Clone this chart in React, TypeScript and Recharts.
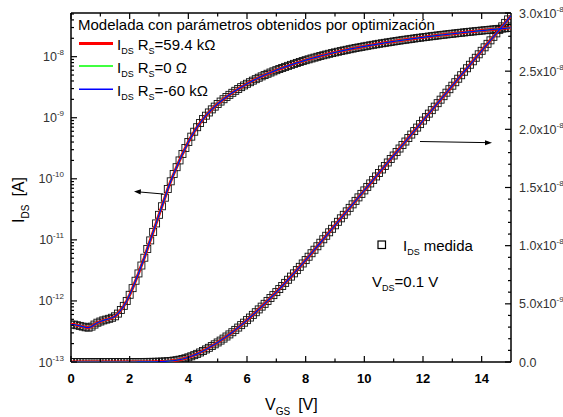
import { ComposedChart, Line, XAxis, YAxis } from "recharts";

// V_GS (V)
const vgs = [
  0, 0.1, 0.2, 0.3, 0.4, 0.5, 0.6, 0.7, 0.8, 0.9,
  1, 1.1, 1.2, 1.3, 1.4, 1.5, 1.6, 1.7, 1.8, 1.9,
  2, 2.1, 2.2, 2.3, 2.4, 2.5, 2.6, 2.7, 2.8, 2.9,
  3, 3.1, 3.2, 3.3, 3.4, 3.5, 3.6, 3.7, 3.8, 3.9,
  4, 4.1, 4.2, 4.3, 4.4, 4.5, 4.6, 4.7, 4.8, 4.9,
  5, 5.1, 5.2, 5.3, 5.4, 5.5, 5.6, 5.7, 5.8, 5.9,
  6, 6.1, 6.2, 6.3, 6.4, 6.5, 6.6, 6.7, 6.8, 6.9,
  7, 7.1, 7.2, 7.3, 7.4, 7.5, 7.6, 7.7, 7.8, 7.9,
  8, 8.1, 8.2, 8.3, 8.4, 8.5, 8.6, 8.7, 8.8, 8.9,
  9, 9.1, 9.2, 9.3, 9.4, 9.5, 9.6, 9.7, 9.8, 9.9,
  10, 10.1, 10.2, 10.3, 10.4, 10.5, 10.6, 10.7, 10.8, 10.9,
  11, 11.1, 11.2, 11.3, 11.4, 11.5, 11.6, 11.7, 11.8, 11.9,
  12, 12.1, 12.2, 12.3, 12.4, 12.5, 12.6, 12.7, 12.8, 12.9,
  13, 13.1, 13.2, 13.3, 13.4, 13.5, 13.6, 13.7, 13.8, 13.9,
  14, 14.1, 14.2, 14.3, 14.4, 14.5, 14.6, 14.7, 14.8, 14.9,
  15,
];

// I_DS medida (A)
const idsMedida = [
  4.1e-13, 4.1e-13, 4.0e-13, 3.9e-13, 3.8e-13, 3.7e-13, 3.65e-13, 3.8e-13, 4.1e-13, 4.4e-13,
  4.6e-13, 4.8e-13, 4.95e-13, 5.1e-13, 5.3e-13, 5.6e-13, 6.2e-13, 7.1e-13, 8.3e-13, 1.0e-12,
  1.26e-12, 1.62e-12, 2.14e-12, 2.82e-12, 3.8e-12, 5.1e-12, 7.1e-12, 9.8e-12, 1.35e-11, 1.86e-11,
  2.57e-11, 3.55e-11, 4.9e-11, 6.8e-11, 9.1e-11, 1.2e-10, 1.55e-10, 2.0e-10, 2.55e-10, 3.2e-10,
  4.0e-10, 4.9e-10, 5.9e-10, 7.0e-10, 8.2e-10, 9.5e-10, 1.08e-9, 1.22e-9, 1.37e-9, 1.52e-9,
  1.68e-9, 1.84e-9, 2.01e-9, 2.19e-9, 2.37e-9, 2.56e-9, 2.76e-9, 2.96e-9, 3.17e-9, 3.38e-9,
  3.6e-9, 3.82e-9, 4.05e-9, 4.28e-9, 4.52e-9, 4.76e-9, 5.0e-9, 5.25e-9, 5.5e-9, 5.75e-9,
  6.01e-9, 6.27e-9, 6.53e-9, 6.8e-9, 7.07e-9, 7.34e-9, 7.62e-9, 7.9e-9, 8.18e-9, 8.47e-9,
  8.76e-9, 9.05e-9, 9.35e-9, 9.65e-9, 9.95e-9, 1.025e-8, 1.055e-8, 1.085e-8, 1.115e-8, 1.145e-8,
  1.175e-8, 1.205e-8, 1.235e-8, 1.265e-8, 1.295e-8, 1.325e-8, 1.355e-8, 1.385e-8, 1.415e-8, 1.445e-8,
  1.475e-8, 1.505e-8, 1.535e-8, 1.565e-8, 1.595e-8, 1.625e-8, 1.655e-8, 1.685e-8, 1.715e-8, 1.745e-8,
  1.775e-8, 1.805e-8, 1.835e-8, 1.865e-8, 1.895e-8, 1.925e-8, 1.955e-8, 1.985e-8, 2.015e-8, 2.045e-8,
  2.075e-8, 2.105e-8, 2.135e-8, 2.165e-8, 2.195e-8, 2.225e-8, 2.255e-8, 2.285e-8, 2.315e-8, 2.345e-8,
  2.375e-8, 2.405e-8, 2.435e-8, 2.465e-8, 2.495e-8, 2.525e-8, 2.555e-8, 2.585e-8, 2.615e-8, 2.645e-8,
  2.675e-8, 2.705e-8, 2.735e-8, 2.765e-8, 2.795e-8, 2.825e-8, 2.855e-8, 2.885e-8, 2.915e-8, 2.945e-8,
  2.975e-8,
];

// the three model curves lie on top of the measurement
const idsRs594k = idsMedida;
const idsRs0 = idsMedida;
const idsRsMinus60k = idsMedida;

const xTicks = [0, 2, 4, 6, 8, 10, 12, 14];
const xMinorTicks = [1, 3, 5, 7, 9, 11, 13];

const logTicks = [1e-13, 1e-12, 1e-11, 1e-10, 1e-9, 1e-8];
const logTickExp = ["-13", "-12", "-11", "-10", "-9", "-8"];
const logTop = 5.19e-8;

const linTicks = [0, 5e-9, 1e-8, 1.5e-8, 2e-8, 2.5e-8, 3e-8];
const linTickText = ["0.0", "5.0x10", "1.0x10", "1.5x10", "2.0x10", "2.5x10", "3.0x10"];
const linTickExp = ["", "-9", "-8", "-8", "-8", "-8", "-8"];

const logMinor: number[] = [];
logTicks.forEach((d) => {
  for (let m = 2; m <= 9; m++) if (d * m <= logTop) logMinor.push(d * m);
});
const linMinor: number[] = [];
for (let i = 1; i < 30; i++) if (i % 5 !== 0) linMinor.push(i * 1e-9);

const rows = vgs.map((v, i) => ({
  vgs: v,
  medida: idsMedida[i],
  rs594: idsRs594k[i],
  rs0: idsRs0[i],
  rsm60: idsRsMinus60k[i],
}));

const FONT = "'Liberation Sans', Arial, sans-serif";

const BottomTick = (props: any) => {
  const { x, y, payload } = props;
  const major = xTicks.includes(payload.value);
  return (
    <g>
      <line x1={x} x2={x} y1={y} y2={y - (major ? 6 : 3.5)} stroke="#000" strokeWidth={1.2} />
      {major && (
        <text x={x} y={y + 21} textAnchor="middle" fontSize={13} fontWeight="bold" fontFamily={FONT} fill="#000">
          {payload.value}
        </text>
      )}
    </g>
  );
};

const TopTick = (props: any) => {
  const { x, y, payload } = props;
  const major = xTicks.includes(payload.value);
  return <line x1={x} x2={x} y1={y} y2={y + (major ? 6 : 3.5)} stroke="#000" strokeWidth={1.2} />;
};

const LeftTick = (props: any) => {
  const { x, y, payload } = props;
  const idx = logTicks.indexOf(payload.value);
  const major = idx >= 0;
  return (
    <g>
      <line x1={x} x2={x + (major ? 6 : 3)} y1={y} y2={y} stroke="#000" strokeWidth={1.2} />
      {major && (
        <text x={x - 7} y={y + 4.5} textAnchor="end" fontSize={12.5} fontFamily={FONT} fill="#333">
          10
          <tspan dy={-6} fontSize={8}>
            {logTickExp[idx]}
          </tspan>
        </text>
      )}
    </g>
  );
};

const RightTick = (props: any) => {
  const { x, y, payload } = props;
  const idx = linTicks.indexOf(payload.value);
  const major = idx >= 0;
  return (
    <g>
      <line x1={x} x2={x - (major ? 6 : 3)} y1={y} y2={y} stroke="#000" strokeWidth={1.2} />
      {major && (
        <text x={x + 8} y={y + 4.5} fontSize={12.5} fontFamily={FONT} fill="#333">
          {linTickText[idx]}
          {linTickExp[idx] && (
            <tspan dy={-6} fontSize={8}>
              {linTickExp[idx]}
            </tspan>
          )}
        </text>
      )}
    </g>
  );
};

// open squares, hollow so the model lines show through
const squareDot = (p: any) => (
  <rect
    key={`sq-${p.index}`}
    x={p.cx - 3.5}
    y={p.cy - 3.5}
    width={7}
    height={7}
    fill="none"
    stroke="#111"
    strokeWidth={0.9}
  />
);

const axisLine = { stroke: "#000", strokeWidth: 1.5 };

export default function App() {
  return (
    <div style={{ position: "absolute", left: 0, top: 0, width: 563, height: 417, background: "#fff" }}>
      <ComposedChart width={563} height={417} data={rows} margin={{ top: 0, right: 0, bottom: 0, left: 0 }}>
        <XAxis
          xAxisId="b"
          dataKey="vgs"
          type="number"
          domain={[0, 15]}
          allowDataOverflow
          ticks={[...xTicks, ...xMinorTicks]}
          interval={0}
          tick={BottomTick}
          tickLine={false}
          tickSize={0}
          tickMargin={0}
          height={55}
          axisLine={axisLine}
        />
        <XAxis
          xAxisId="t"
          orientation="top"
          dataKey="vgs"
          type="number"
          domain={[0, 15]}
          allowDataOverflow
          ticks={[...xTicks, ...xMinorTicks]}
          interval={0}
          tick={TopTick}
          tickLine={false}
          tickSize={0}
          tickMargin={0}
          height={13}
          axisLine={axisLine}
        />
        <YAxis
          yAxisId="log"
          scale="log"
          type="number"
          domain={[1e-13, logTop]}
          allowDataOverflow
          ticks={[...logTicks, ...logMinor]}
          interval={0}
          tick={LeftTick}
          tickLine={false}
          tickSize={0}
          tickMargin={0}
          width={71}
          axisLine={axisLine}
        />
        <YAxis
          yAxisId="lin"
          orientation="right"
          type="number"
          domain={[0, 3e-8]}
          allowDataOverflow
          ticks={[...linTicks, ...linMinor]}
          interval={0}
          tick={RightTick}
          tickLine={false}
          tickSize={0}
          tickMargin={0}
          width={52}
          axisLine={axisLine}
        />

        <Line xAxisId="b" yAxisId="log" dataKey="medida" stroke="none" dot={squareDot} activeDot={false} isAnimationActive={false} zIndex={300} />
        <Line xAxisId="b" yAxisId="lin" dataKey="medida" stroke="none" dot={squareDot} activeDot={false} isAnimationActive={false} zIndex={300} />

        <Line xAxisId="b" yAxisId="log" dataKey="rs594" stroke="#ff0000" strokeWidth={3} dot={false} isAnimationActive={false} zIndex={700} />
        <Line xAxisId="b" yAxisId="lin" dataKey="rs594" stroke="#ff0000" strokeWidth={3} dot={false} isAnimationActive={false} zIndex={700} />
        <Line xAxisId="b" yAxisId="log" dataKey="rs0" stroke="#00ff00" strokeWidth={1.2} dot={false} isAnimationActive={false} zIndex={710} />
        <Line xAxisId="b" yAxisId="lin" dataKey="rs0" stroke="#00ff00" strokeWidth={1.2} dot={false} isAnimationActive={false} zIndex={710} />
        <Line xAxisId="b" yAxisId="log" dataKey="rsm60" stroke="#0000ff" strokeWidth={1.2} dot={false} isAnimationActive={false} zIndex={720} />
        <Line xAxisId="b" yAxisId="lin" dataKey="rsm60" stroke="#0000ff" strokeWidth={1.2} dot={false} isAnimationActive={false} zIndex={720} />
      </ComposedChart>

      <svg
        width={563}
        height={417}
        style={{ position: "absolute", left: 0, top: 0, pointerEvents: "none" }}
        fontFamily={FONT}
      >
        {/* leyenda */}
        <text x={78} y={29.5} fontSize={15} fill="#000">
          Modelada con parámetros obtenidos por optimización
        </text>
        <line x1={79} x2={113} y1={43.5} y2={43.5} stroke="#ff0000" strokeWidth={3} />
        <text x={117} y={50} fontSize={15} fill="#000">
          I<tspan dy={4} fontSize={9}>DS</tspan>
          <tspan dy={-4} dx={4}>R</tspan>
          <tspan dy={4} fontSize={9}>S</tspan>
          <tspan dy={-4}>=59.4 kΩ</tspan>
        </text>
        <line x1={79} x2={113} y1={66} y2={66} stroke="#00ff00" strokeWidth={1.5} />
        <text x={117} y={72.5} fontSize={15} fill="#000">
          I<tspan dy={4} fontSize={9}>DS</tspan>
          <tspan dy={-4} dx={4}>R</tspan>
          <tspan dy={4} fontSize={9}>S</tspan>
          <tspan dy={-4}>=0 Ω</tspan>
        </text>
        <line x1={79} x2={113} y1={89.3} y2={89.3} stroke="#0000ff" strokeWidth={1.5} />
        <text x={117} y={95.5} fontSize={15} fill="#000">
          I<tspan dy={4} fontSize={9}>DS</tspan>
          <tspan dy={-4} dx={4}>R</tspan>
          <tspan dy={4} fontSize={9}>S</tspan>
          <tspan dy={-4}>=-60 kΩ</tspan>
        </text>

        {/* flechas */}
        <line x1={163} y1={194} x2={140} y2={192} stroke="#000" strokeWidth={1} />
        <polygon points="134,191.5 141,189.2 140.6,194.4" fill="#000" />
        <line x1={420} y1={141.5} x2={485} y2={142.6} stroke="#000" strokeWidth={1} />
        <polygon points="492,142.8 485,140.2 485,145.2" fill="#000" />

        {/* medida */}
        <rect x={378} y={241} width={7.5} height={7.5} fill="#fff" stroke="#000" strokeWidth={1.2} />
        <text x={403} y={251} fontSize={15} fill="#000">
          I<tspan dy={4} fontSize={9}>DS</tspan>
          <tspan dy={-4} dx={4}>medida</tspan>
        </text>
        <text x={372} y={287} fontSize={15} fill="#000">
          V<tspan dy={4} fontSize={9}>DS</tspan>
          <tspan dy={-4}>=0.1 V</tspan>
        </text>

        {/* titulos de ejes */}
        <text x={265} y={410} fontSize={16} fill="#000">
          V<tspan dy={5} fontSize={10}>GS</tspan>
          <tspan dy={-5} dx={8}>[V]</tspan>
        </text>
        <text transform="translate(24,200) rotate(-90)" textAnchor="middle" fontSize={16} fill="#000">
          I<tspan dy={5} fontSize={10}>DS</tspan>
          <tspan dy={-5} dx={8}>[A]</tspan>
        </text>
      </svg>
    </div>
  );
}
